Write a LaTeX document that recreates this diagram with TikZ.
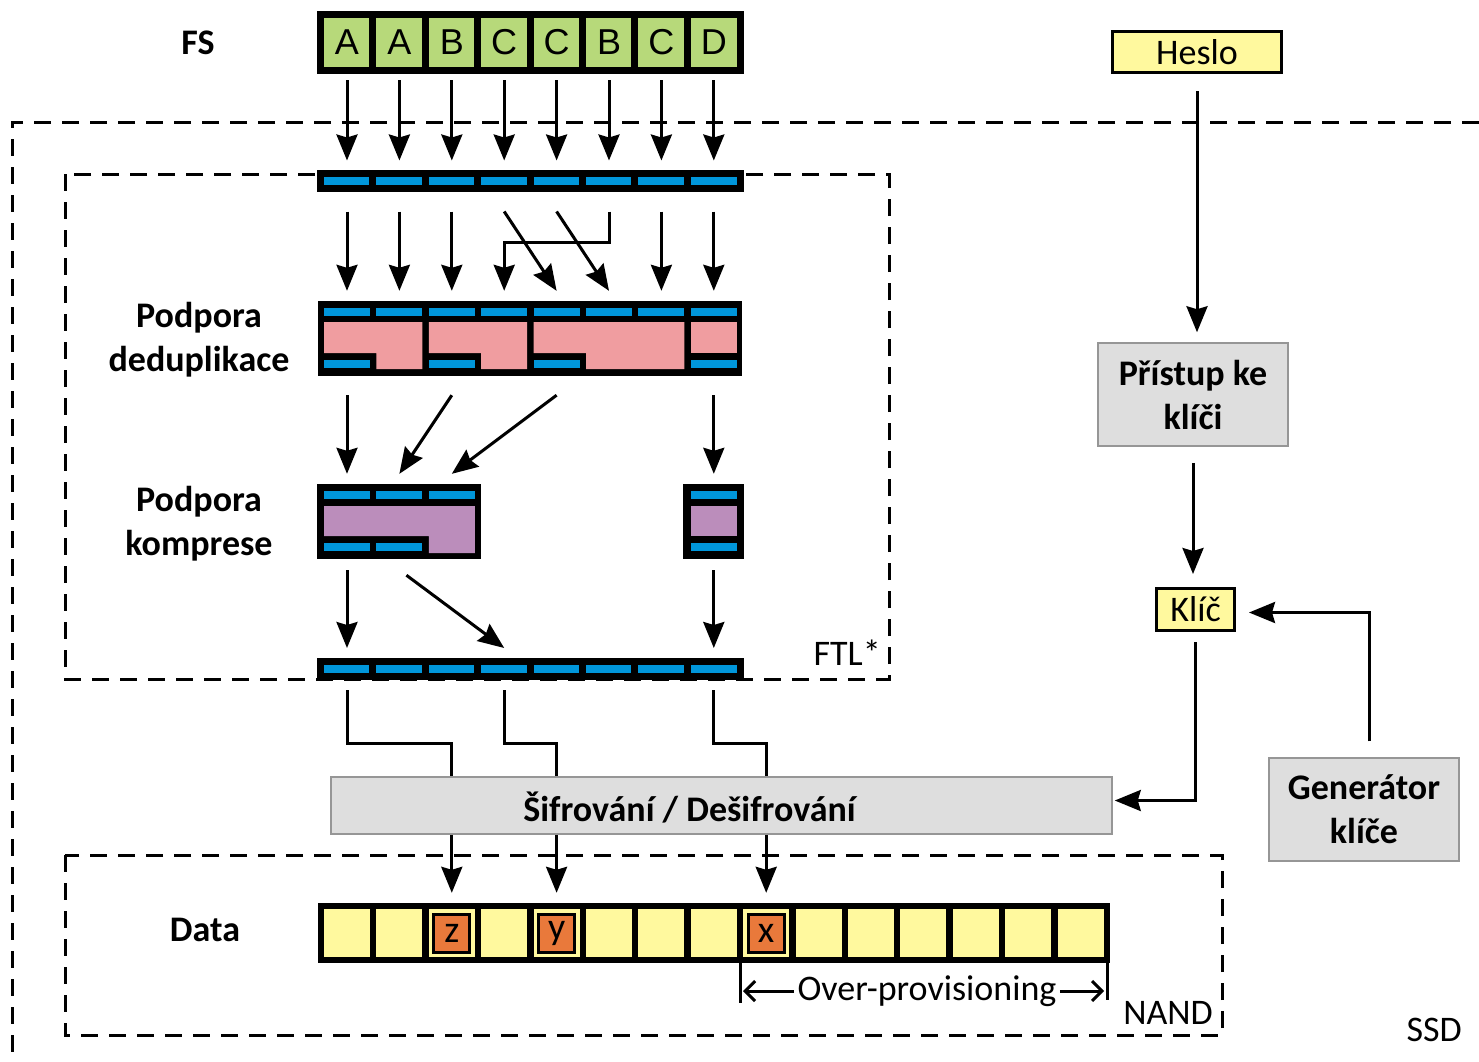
\documentclass[tikz,border=0pt]{standalone}
\usepackage{fontspec}
\setmainfont{Carlito}
\newfontfamily\cellfont{Liberation Sans}
\usetikzlibrary{arrows.meta,positioning}

\definecolor{fsgreen}{RGB}{183,217,122}
\definecolor{barblue}{RGB}{0,150,218}
\definecolor{dedpink}{RGB}{240,157,160}
\definecolor{comppurple}{RGB}{187,141,187}
\definecolor{paleyellow}{RGB}{255,249,158}
\definecolor{valorange}{RGB}{233,121,59}
\definecolor{boxgray}{RGB}{222,222,222}
\definecolor{boxline}{RGB}{150,150,150}

\begin{document}
\begin{tikzpicture}[x=1pt, y=-1pt,
  txt/.style={font=\fontsize{36}{44}\selectfont},
  lbl/.style={font=\fontsize{36}{44}\selectfont\bfseries, align=center},
  fscell/.style={draw, line width=7pt, fill=fsgreen, minimum width=53pt, minimum height=56pt, inner sep=0pt, font=\fontsize{36}{44}\cellfont},
  barcell/.style={draw, line width=7pt, fill=barblue, minimum width=53pt, minimum height=15pt, inner sep=0pt},
  bluebar/.style={fill=barblue, minimum width=46pt, minimum height=8pt, inner sep=0pt},
  backing/.style={fill=black, inner sep=0pt, minimum height=75pt},
  datacell/.style={fill=paleyellow, minimum width=46pt, minimum height=48pt, inner sep=0pt},
  valbox/.style={draw, line width=3pt, fill=valorange, minimum width=36pt, minimum height=38pt, inner sep=0pt, font=\fontsize{38}{44}\selectfont},
  graybox/.style={draw=boxline, line width=1.5pt, fill=boxgray, minimum width=190pt, minimum height=103pt, lbl},
  keybox/.style={draw, line width=3pt, fill=paleyellow, inner sep=0pt, txt},
  arr/.style={-{Stealth[length=26pt, width=21pt, inset=3pt]}, line width=3pt},
  ln/.style={line width=3pt},
  dashbox/.style={line width=3pt, dash pattern=on 17pt off 11pt}]

\path[use as bounding box, fill=white] (0,0) rectangle (1479,1061);

% Dashed frames
\draw[dashbox] (1479,122) -- (12,122) -- (12,1061);
\draw[dashbox] (65,174) rectangle (889,679);
\draw[dashbox] (65,855) rectangle (1222,1035);

% File system blocks
\foreach \i/\l in {1/A,2/A,3/B,4/C,5/C,6/B,7/C,8/D}
  \node[fscell] (fs\i) at ({347+52.4*(\i-1)},42.5) {\l};

% FTL input and output
\foreach \i in {1,...,8} {
  \node[barcell] (in\i) at ({347+52.4*(\i-1)},180.5) {};
  \node[barcell] (out\i) at ({347+52.4*(\i-1)},669) {};
}

% Deduplication
\node[backing, minimum width=424pt] (dedup) at (530,338.5) {};
\foreach \a/\b/\c in {324/376.4/422.4, 428.8/481.2/527.2, 533.6/586/684.4}
  \fill[dedpink] (\a,322) -| (\c,369) -| (\b,353) -- (\a,353) -- cycle;
\fill[dedpink] (690.8,322) rectangle (736.8,353);
\foreach \i in {1,...,8}
  \node[bluebar] (dd\i) at ({347+52.4*(\i-1)},312) {};
\foreach \i in {1,3,5,8}
  \node[bluebar] (ddb\i) at ({347+52.4*(\i-1)},364) {};

% Compression
\node[backing, minimum width=164pt] (compl) at (399,521.5) {};
\node[backing, minimum width=61pt] (compr) at (713.5,521.5) {};
\fill[comppurple] (324,506) -| (474.8,553) -| (428.8,536) -- (324,536) -- cycle;
\fill[comppurple] (690.8,506) rectangle (736.8,536);
\foreach \i in {1,2,3,8}
  \node[bluebar] (cp\i) at ({347+52.4*(\i-1)},495) {};
\foreach \i in {1,2,8}
  \node[bluebar] (cpb\i) at ({347+52.4*(\i-1)},547) {};

% NAND data
\node[backing, minimum width=792pt, minimum height=60pt] (data) at (714,933) {};
\foreach \k in {1,...,15}
  \node[datacell] (d\k) at ({347+52.4*(\k-1)},933) {};
\node[valbox] (zval) at (d3) {z};
\node[valbox] (yval) at (d5) {y};
\node[valbox] (xval) at (d9) {x};

% Encryption and keys
\node[graybox, minimum width=781pt, minimum height=57pt,
  label={[lbl, xshift=-32pt, yshift=-2pt]center:Šifrování / Dešifrování}] (enc) at (721.5,805.5) {};
\node[keybox, minimum width=169pt, minimum height=41pt] (heslo) at (1197,52) {Heslo};
\node[graybox] (pristup) at (1193,394.5) {Přístup ke\\klíči};
\node[keybox, minimum width=78pt, minimum height=42pt] (klic) at (1195.5,609.5) {Klíč};
\node[graybox] (gen) at (1364,809.5) {Generátor\\klíče};

% Labels
\node[lbl] (fslabel) at (198,43) {FS};
\node[lbl] (deduplabel) at (199,340) {Podpora\\deduplikace};
\node[lbl] (complabel) at (199,524) {Podpora\\komprese};
\node[lbl] (datalabel) at (205,930) {Data};
\node[txt, anchor=base east, inner sep=0pt] (ftllabel) at (881,665) {FTL*};
\node[txt, anchor=base east, inner sep=0pt] (nandlabel) at (1213,1024) {NAND};
\node[txt, anchor=base east, inner sep=0pt] (ssdlabel) at (1462,1041) {SSD};

% Arrows through the FTL
\foreach \i in {1,...,8}
  \draw[arr] ([yshift=-6pt]fs\i.south) -- ([yshift=9pt]in\i.north);
\foreach \i in {1,2,3,7,8}
  \draw[arr] ([yshift=-20pt]in\i.south) -- ([yshift=10pt]dedup.north -| in\i);
\draw[arr] ([yshift=-20pt]in4.south) -- ([yshift=10pt]dedup.north -| dd5);
\draw[arr] ([yshift=-20pt]in5.south) -- ([yshift=10pt]dedup.north -| dd6);
\draw[arr] ([yshift=-20pt]in6.south) -- ++(0,31) -| ([yshift=10pt]dedup.north -| dd4);

\draw[arr] ([yshift=-19pt]dedup.south -| dd1) -- ([yshift=10pt]compl.north -| cp1);
\draw[arr] ([yshift=-19pt]dedup.south -| dd3) -- ([yshift=10pt]compl.north -| cp2);
\draw[arr] ([yshift=-19pt]dedup.south -| dd5) -- ([yshift=10pt]compl.north -| cp3);
\draw[arr] ([yshift=-19pt]dedup.south -| dd8) -- ([yshift=10pt]compr.north -| cp8);

\draw[arr] ([yshift=-11pt]compl.south -| cp1) -- ([yshift=10pt]out1.north);
\draw[arr] ([xshift=7pt,yshift=-16pt]compl.south -| cp2) -- ([yshift=10pt]out4.north);
\draw[arr] ([yshift=-11pt]compr.south -| cp8) -- ([yshift=10pt]out8.north);

% Through the encryption
\foreach \i/\k in {1/3,4/5,8/9}
  \draw[ln] ([yshift=-10pt]out\i.south) -- ++(0,53) -| (enc.north -| d\k);
\foreach \k in {3,5,9}
  \draw[arr] (enc.south -| d\k) -- ([yshift=10pt]data.north -| d\k);

% Key handling
\draw[arr] ([yshift=-17pt]heslo.south) -- ([yshift=10pt]pristup.north -| heslo.south);
\draw[arr] ([yshift=-16pt]pristup.south) -- ([yshift=13pt]klic.north -| pristup.south);
\draw[arr] ([yshift=-10pt]klic.south) |- ([xshift=2pt,yshift=5pt]enc.east);
\draw[arr] ([xshift=5pt,yshift=16pt]gen.north) |- ([xshift=13pt,yshift=-3pt]klic.east);

% Over-provisioning
\coordinate (opl) at ([xshift=-3pt]data.south -| d9.west);
\coordinate (opr) at ([xshift=-3pt]data.south east);
\draw[ln] (opl) -- ++(0,40);
\draw[ln] (opr) -- ++(0,37);
\node[txt] (op) at (927,991) {Over-provisioning};
\draw[ln, -{Straight Barb[length=10pt, width=20pt]}, shorten >=3pt] (op.west) -- (op.west -| opl);
\draw[ln, -{Straight Barb[length=10pt, width=20pt]}, shorten >=3pt] (op.east) -- (op.east -| opr);
\end{tikzpicture}
\end{document}
